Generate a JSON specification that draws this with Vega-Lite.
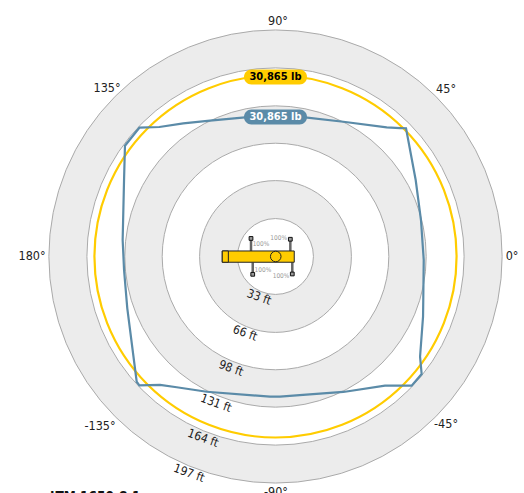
{"$schema":"https://vega.github.io/schema/vega-lite/v6.json","width":524,"height":493,"padding":0,"autosize":"none","background":"white","view":{"stroke":null},
"config":{"text":{"font":"DejaVu Sans Condensed, Roboto, sans-serif"}},
"encoding":{"x":{"field":"x","type":"quantitative","axis":null,"scale":{"domain":[-239.565,216.087],"nice":false,"zero":false}},"y":{"field":"y","type":"quantitative","axis":null,"scale":{"domain":[-205.652,223.043],"nice":false,"zero":false}}},
"layer":[
{"data":{"values":[{"x":0,"y":0,"r":197,"c":"g"},{"x":0,"y":0,"r":164,"c":"w"},{"x":0,"y":0,"r":131,"c":"g"},{"x":0,"y":0,"r":98.5,"c":"w"},{"x":0,"y":0,"r":66,"c":"g"},{"x":0,"y":0,"r":33,"c":"w"}]},
"mark":{"type":"arc","theta":0,"theta2":6.2832,"stroke":"#aaaaaa","strokeWidth":1},
"encoding":{"radius":{"field":"r","type":"quantitative","stack":null,"scale":{"type":"linear","domain":[0,200],"range":[0,230]}},"fill":{"field":"c","type":"nominal","legend":null,"scale":{"domain":["g","w"],"range":["#ececec","#ffffff"]}}}},
{"data":{"values":[{"x":0,"y":0,"r":157.4}]},
"mark":{"type":"arc","theta":0,"theta2":6.2832,"filled":false,"fill":null,"stroke":"#ffcc00","strokeWidth":2.2},
"encoding":{"radius":{"field":"r","type":"quantitative","stack":null,"scale":{"type":"linear","domain":[0,200],"range":[0,230]}}}},
{"data":{"values":[{"i":0,"x":-26.5,"y":121},{"i":1,"x":-0.4,"y":122.2},{"i":2,"x":25.7,"y":121},{"i":3,"x":59,"y":117.2},{"i":4,"x":96.7,"y":112.3},{"i":5,"x":108.3,"y":111.7},{"i":6,"x":113.5,"y":111.5},{"i":7,"x":121.9,"y":66.5},{"i":8,"x":126.5,"y":31.7},{"i":9,"x":128.9,"y":-3},{"i":10,"x":128.5,"y":-37.8},{"i":11,"x":128.3,"y":-52.3},{"i":12,"x":125.7,"y":-87.1},{"i":13,"x":127.1,"y":-102.2},{"i":14,"x":118.4,"y":-112.3},{"i":15,"x":95.2,"y":-112.3},{"i":16,"x":59,"y":-117.8},{"i":17,"x":23.9,"y":-120.4},{"i":18,"x":3.9,"y":-121.9},{"i":19,"x":-4.8,"y":-121.9},{"i":20,"x":-59.8,"y":-117.6},{"i":21,"x":-85.9,"y":-113.7},{"i":22,"x":-100.4,"y":-111.7},{"i":23,"x":-118.4,"y":-112},{"i":24,"x":-120.7,"y":-108.9},{"i":25,"x":-128.9,"y":-44.8},{"i":26,"x":-131.7,"y":-11.7},{"i":27,"x":-132.9,"y":14.3},{"i":28,"x":-131.7,"y":66.5},{"i":29,"x":-130.9,"y":96.3},{"i":30,"x":-118.4,"y":112},{"i":31,"x":-101,"y":112.6},{"i":32,"x":-80.2,"y":115.8},{"i":33,"x":-57,"y":118.1},{"i":34,"x":-26.5,"y":121}]},
"mark":{"type":"line","stroke":"#5b8ba8","strokeWidth":2.2},
"encoding":{"order":{"field":"i","type":"quantitative"}}},
{"data":{"values":[{"x":-27.4,"x2":27.4,"y":162.5,"y2":149.5,"c":"#ffcc00"},{"x":-27.4,"x2":27.4,"y":127.8,"y2":114.8,"c":"#5b8ba8"}]},
"mark":{"type":"rect","cornerRadius":7.5},
"encoding":{"x2":{"field":"x2"},"y2":{"field":"y2"},"fill":{"field":"c","type":"nominal","scale":null}}},
{"data":{"values":[{"x":0,"y":156,"t":"30,865 lb","c":"#000000"},{"x":0,"y":121.3,"t":"30,865 lb","c":"#ffffff"}]},
"mark":{"type":"text","fontSize":11,"fontWeight":"bold","baseline":"middle"},
"encoding":{"text":{"field":"t"},"color":{"field":"c","type":"nominal","scale":null}}},
{"data":{"values":[{"x":-21.3,"y":4.8,"y2":15.7},{"x":-19.8,"y":-5,"y2":-15.5},{"x":12.9,"y":4.8,"y2":15},{"x":14.6,"y":-5,"y2":-15.2}]},
"mark":{"type":"rule","stroke":"#666666","strokeWidth":2.5},
"encoding":{"y2":{"field":"y2"}}},
{"data":{"values":[{"x":-21.3,"y":15.7},{"x":-19.8,"y":-15.5},{"x":12.9,"y":15},{"x":14.6,"y":-15.2}]},
"mark":{"type":"point","shape":"square","size":14,"filled":true,"fill":"#999999","stroke":"#111111","strokeWidth":1,"opacity":1},"encoding":{}},
{"data":{"values":[{"x":-46.3,"x2":16.3,"y":4.8,"y2":-5},{"x":-46.3,"x2":-41,"y":4.8,"y2":-5}]},
"mark":{"type":"rect","fill":"#ffcc00","stroke":"#222222","strokeWidth":1},
"encoding":{"x2":{"field":"x2"},"y2":{"field":"y2"}}},
{"data":{"values":[{"x":0.2,"y":0,"r":4.6}]},
"mark":{"type":"arc","theta":0,"theta2":6.2832,"fill":"#ffcc00","stroke":"#222222","strokeWidth":1},
"encoding":{"radius":{"field":"r","type":"quantitative","stack":null,"scale":{"type":"linear","domain":[0,200],"range":[0,230]}}}},
{"data":{"values":[{"x":-12.6,"y":11.1,"t":"100%"},{"x":2.8,"y":16.3,"t":"100%"},{"x":-10.9,"y":-11.7,"t":"100%"},{"x":4.8,"y":-17.2,"t":"100%"}]},
"mark":{"type":"text","fontSize":6.5,"fill":"#999999","baseline":"middle"},
"encoding":{"text":{"field":"t"}}},
{"data":{"values":[{"x":-14.3,"y":-35.2,"t":"33 ft"},{"x":-26.5,"y":-66.5,"t":"66 ft"},{"x":-38.7,"y":-97,"t":"98 ft"},{"x":-51.7,"y":-127.4,"t":"131 ft"},{"x":-63,"y":-157.8,"t":"164 ft"},{"x":-75.2,"y":-188.3,"t":"197 ft"}]},
"mark":{"type":"text","fontSize":12,"angle":20,"fill":"#222222","baseline":"middle"},
"encoding":{"text":{"field":"t"}}},
{"data":{"values":[{"x":2.2,"y":204.8,"t":"90°"},{"x":148.3,"y":145.7,"t":"45°"},{"x":205.7,"y":0.4,"t":"0°"},{"x":148.3,"y":-145.7,"t":"-45°"},{"x":0.4,"y":-204.8,"t":"-90°"},{"x":-152.6,"y":-147.4,"t":"-135°"},{"x":-211.7,"y":0.4,"t":"180°"},{"x":-146.5,"y":146.5,"t":"135°"}]},
"mark":{"type":"text","fontSize":12.5,"fill":"#222222","baseline":"middle"},
"encoding":{"text":{"field":"t"}}},
{"data":{"values":[{"x":-196.1,"y":-212.6,"t":"LTM 1650-8.1"}]},
"mark":{"type":"text","fontSize":13.5,"fontWeight":"bold","fill":"#111111","align":"left","baseline":"alphabetic"},
"encoding":{"text":{"field":"t"}}}
]}
